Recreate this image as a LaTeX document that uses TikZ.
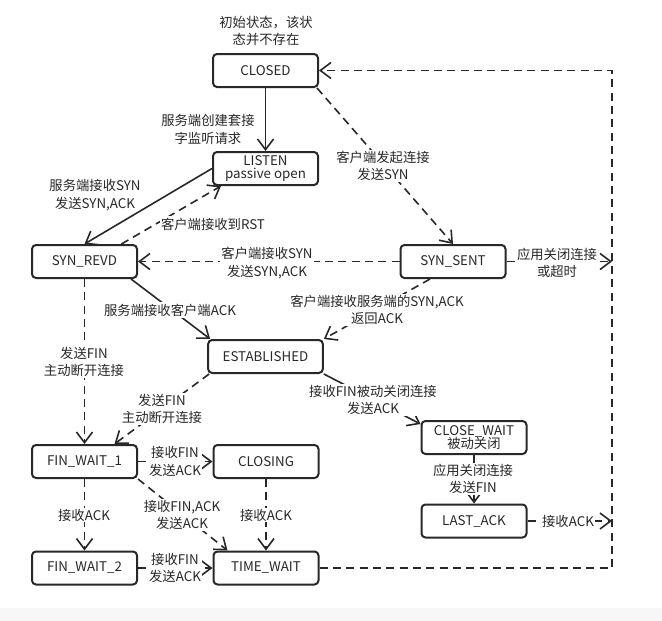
\documentclass[tikz,border=0pt]{standalone}
\usepackage{fontspec}
\setmainfont{Noto Sans CJK SC}
\usetikzlibrary{arrows.meta,calc}
\definecolor{ink}{RGB}{40,40,40}
\begin{document}
\begin{tikzpicture}[x=0.75pt,y=-0.75pt,
  every node/.style={font=\fontsize{10}{13}\selectfont, text=ink},
  state/.style={draw=ink, line width=1.5pt, rounded corners=3pt, minimum width=78.75pt, minimum height=24.75pt, inner sep=0pt, align=center},
  lbl/.style={fill=white, inner sep=1pt, align=center},
  plain/.style={align=center, inner sep=0pt},
  conn/.style={draw=ink, line width=1.2pt, -{Straight Barb[length=8pt,width=12pt,line width=1.2pt]}},
  dconn/.style={conn, dash pattern=on 6pt off 4pt},
  dline/.style={draw=ink, line width=1.2pt, dash pattern=on 6pt off 4pt}]
\useasboundingbox (0,0) rectangle (662,621);
\fill[white] (0,0) rectangle (662,608);
\fill[black!3] (0,608) rectangle (662,621);

% states
\node[state] (CLOSED) at (265.5,70.5) {CLOSED};
\node[state] (LISTEN) at (265.5,168.5) {LISTEN\\[-3pt]passive open};
\node[state] (SYNREVD) at (84.5,261.5) {SYN\_REVD};
\node[state] (SYNSENT) at (453,261.5) {SYN\_SENT};
\node[state, minimum width=86pt] (EST) at (265.5,356.5) {ESTABLISHED};
\node[state] (FW1) at (84.5,461.5) {FIN\_WAIT\_1};
\node[state] (CLOSING) at (266,461.5) {CLOSING};
\node[state] (FW2) at (84.5,568) {FIN\_WAIT\_2};
\node[state] (TW) at (266,568) {TIME\_WAIT};
\node[state] (CW) at (474,437.5) {CLOSE\_WAIT\\[-3pt]被动关闭};
\node[state] (LA) at (474,521) {LAST\_ACK};

\coordinate (rSYN) at (612,261.5);
\coordinate (rLA) at (612,521);
\coordinate (rTW) at (612,568);
\coordinate (rCL) at (612,70.5);

% initial note
\node[plain] (note) at (266,31) {初始状态，该状\\态并不存在};

% connectors
\draw[conn] (CLOSED) -- (LISTEN);
\node[plain] (l1) at (208,129.5) {服务端创建套接\\字监听请求};

\draw[conn] (LISTEN.west) -- (SYNREVD.north);
\node[plain] (l2) at (95,195) {服务端接收SYN\\发送SYN,ACK};

\draw[dconn] ($(SYNREVD.north)+(37,0)$) -- ($(LISTEN.south west)+(9,0)$);
\node[lbl] (l3) at (213,224) {客户端接收到RST};

\draw[dconn] ($(CLOSED.south east)+(-2,0)$) -- (SYNSENT.north);
\node[lbl] (l4) at (383,166) {客户端发起连接\\发送SYN};

\draw[dconn] (SYNSENT.west) -- (SYNREVD.east);
\node[lbl] (l5) at (267,263) {客户端接收SYN\\发送SYN,ACK};

\draw[conn] ($(SYNREVD.south east)+(-7,0)$) -- ($(EST.north west)+(3,0)$);
\node[lbl] (l6) at (170,310) {服务端接收客户端ACK};

\draw[dconn] ($(SYNSENT.south)+(-23,0)$) -- (EST.north east);
\node[lbl] (l7) at (377,310) {客户端接收服务端的SYN,ACK\\返回ACK};

\draw[dline] (SYNSENT.east) -- (rSYN);
\node[lbl] (l8) at (557,263) {应用关闭连接\\或超时};
\draw[conn] ($(rSYN)+(-1,0)$) -- (rSYN);

\draw[dconn] (SYNREVD.south) -- (FW1.north);
\node[lbl] (l9) at (84,362) {发送FIN\\主动断开连接};

\draw[dconn] ($(EST.south west)+(2,0)$) -- ($(FW1.north)+(30,0)$);
\node[lbl] (l10) at (162,409) {发送FIN\\主动断开连接};

\draw[conn] (EST.south east) -- ($(CW.north west)+(0,4)$);
\node[lbl] (l11) at (373,400) {接收FIN被动关闭连接\\发送ACK};

\draw[conn] (CW.south) -- (LA.north);
\node[lbl] (l12) at (473,479) {应用关闭连接\\发送FIN};

\draw[dline] (LA.east) -- (rLA);
\node[lbl] (l13) at (568,521) {接收ACK};
\draw[conn] ($(rLA)+(-1,0)$) -- (rLA);

\draw[dconn] (FW1.east) -- (CLOSING.west);
\node[lbl] (l14) at (175,461.5) {接收FIN\\发送ACK};

\draw[dconn] (FW1.south) -- (FW2.north);
\node[lbl] (l15) at (84,515) {接收ACK};

\draw[dconn] (FW1.south east) -- ($(TW.north west)+(15,0)$);
\node[lbl] (l16) at (182,515) {接收FIN,ACK\\发送ACK};

\draw[dconn] (CLOSING.south) -- (TW.north);
\node[lbl] (l17) at (266,515) {接收ACK};

\draw[dconn] (FW2.east) -- (TW.west);
\node[lbl] (l18) at (175,568) {接收FIN\\发送ACK};

\draw[dconn] (TW.east) -- (rTW) -- (rCL) -- (CLOSED.east);
\end{tikzpicture}
\end{document}
